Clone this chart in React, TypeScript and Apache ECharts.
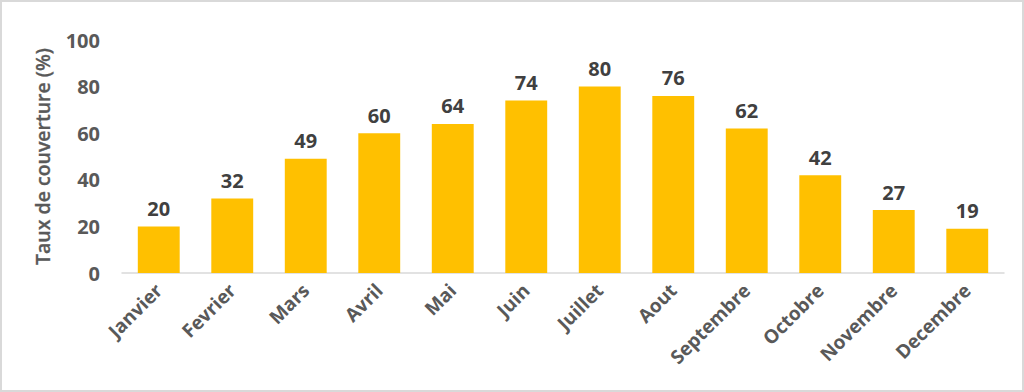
import React, { useEffect, useRef } from "react";
import * as echarts from "echarts";

const categories = ["Janvier", "Fevrier", "Mars", "Avril", "Mai", "Juin", "Juillet", "Aout", "Septembre", "Octobre", "Novembre", "Decembre"];
const values = [20, 32, 49, 60, 64, 74, 80, 76, 62, 42, 27, 19];
const yAxisName = "Taux de couverture (%)";

export default function App() {
  const ref = useRef<HTMLDivElement>(null);
  useEffect(() => {
    document.body.style.margin = "0";
    const chart = echarts.init(ref.current!, null, { renderer: "svg" });
    chart.setOption({
      animation: false,
      backgroundColor: "#ffffff",
      textStyle: { fontFamily: "Open Sans" },
      grid: { left: 120, right: 18, top: 38, bottom: 117, containLabel: false },
      xAxis: {
        type: "category",
        data: categories,
        axisLine: { lineStyle: { color: "#D9D9D9", width: 1.5 } },
        axisTick: { show: false },
        axisLabel: {
          rotate: 45,
          margin: 14,
          color: "#595959",
          fontSize: 19,
          fontWeight: "bold",
          fontFamily: "Open Sans",
        },
      },
      yAxis: {
        type: "value",
        min: 0,
        max: 100,
        interval: 20,
        name: yAxisName,
        nameLocation: "middle",
        nameGap: 70,
        nameTextStyle: { color: "#595959", fontSize: 19.5, fontWeight: 600, fontFamily: "Open Sans", textBorderColor: "#595959", textBorderWidth: 0.3 },
        splitLine: { show: false },
        axisLine: { show: false },
        axisTick: { show: false },
        axisLabel: { color: "#595959", fontSize: 20, fontWeight: "bold", margin: 22, fontFamily: "Open Sans" },
      },
      series: [
        {
          type: "bar",
          data: values,
          barWidth: "57%",
          itemStyle: { color: "#FFC000" },
          label: {
            show: true,
            position: "top",
            distance: 8,
            color: "#404040",
            fontSize: 20,
            fontWeight: "bold",
            fontFamily: "Open Sans",
          },
        },
      ],
    });
    return () => chart.dispose();
  }, []);
  return (
    <div
      ref={ref}
      style={{
        position: "fixed",
        left: 0,
        top: 0,
        width: 1024,
        height: 392,
        boxSizing: "border-box",
        border: "2px solid #D9D9D9",
      }}
    />
  );
}
